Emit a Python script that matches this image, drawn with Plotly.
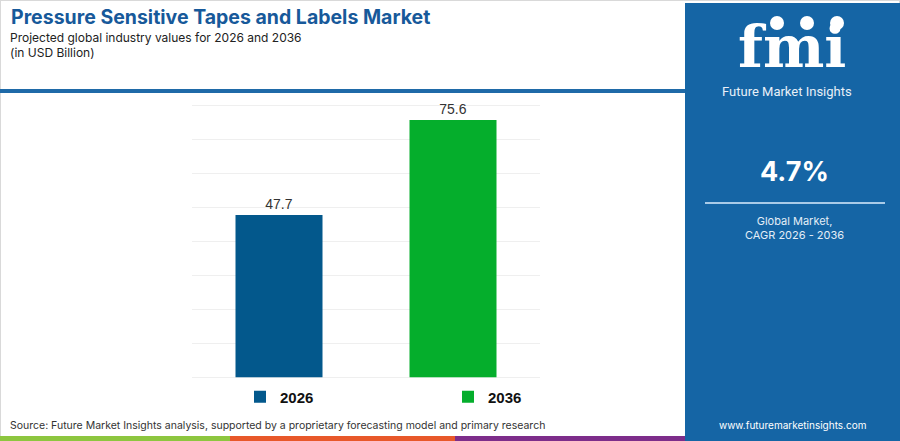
import plotly.graph_objects as go

# -----------------------------------------------------------------------------
# datos
years = ["2026", "2036"]
values = [47.7, 75.6]
bar_colors = ["#03588C", "#05AE2C"]

title = "Pressure Sensitive Tapes and Labels Market"
subtitle = "Projected global industry values for 2026 and 2036"
units = "(in USD Billion)"
cagr = "4.7%"
source = "Source: Future Market Insights analysis, supported by a proprietary forecasting model and primary research"

W, H = 900, 441


def px_x(p):
    return p / W


def px_y(p):
    return 1 - p / H


fig = go.Figure()

for year, val, col in zip(years, values, bar_colors):
    fig.add_trace(go.Bar(
        x=[year], y=[val], name=f"<b>{year}</b>",
        marker=dict(color=col, line=dict(width=0)),
        width=0.5,
        text=[f"{val:.1f}"], textposition="outside",
        textfont=dict(family="Liberation Sans, Arial", size=14, color="#333333"),
        cliponaxis=False,
    ))

fig.update_layout(
    width=W, height=H,
    margin=dict(l=0, r=0, t=0, b=0),
    paper_bgcolor="white", plot_bgcolor="white",
    barmode="overlay",
    showlegend=True,
    legend=dict(
        orientation="h", x=px_x(240), y=px_y(397), xanchor="left", yanchor="middle",
        entrywidth=163, entrywidthmode="pixels",
        font=dict(family="Liberation Sans, Arial", size=15, color="#111111"),
        bgcolor="rgba(0,0,0,0)",
    ),
    xaxis=dict(domain=[px_x(192), px_x(540)], range=[-0.5, 1.5],
               showticklabels=False, showgrid=False, zeroline=False, fixedrange=True),
    yaxis=dict(domain=[px_y(377.5), px_y(104)], range=[0, 80.3], dtick=10,
               showticklabels=False, showgrid=True, gridcolor="#efefef", gridwidth=1,
               zeroline=True, zerolinecolor="#efefef", zerolinewidth=1, fixedrange=True),
)

shapes = []
# borde gris
shapes.append(dict(type="rect", xref="paper", yref="paper", x0=0, x1=1, y0=0, y1=1,
                   line=dict(color="#d9d9d9", width=2), fillcolor="rgba(0,0,0,0)", layer="below"))
# linea azul bajo el titulo
shapes.append(dict(type="line", xref="paper", yref="paper", x0=0, x1=px_x(685),
                   y0=px_y(91), y1=px_y(91), line=dict(color="#1f6aa8", width=4)))
# franja inferior
for x0, x1, col in [(0, 230, "#8DC63F"), (230, 455, "#E8582A"), (455, 685, "#7D2D8A")]:
    shapes.append(dict(type="rect", xref="paper", yref="paper", x0=px_x(x0), x1=px_x(x1),
                       y0=0, y1=px_y(436), line=dict(width=0), fillcolor=col))
# panel derecho
shapes.append(dict(type="rect", xref="paper", yref="paper", x0=px_x(685), x1=1,
                   y0=0, y1=px_y(3), line=dict(width=0), fillcolor="#1565A5"))
# separador del CAGR
shapes.append(dict(type="line", xref="paper", yref="paper", x0=px_x(705), x1=px_x(885),
                   y0=px_y(203), y1=px_y(203), line=dict(color="#a9cbe8", width=2)))
# circulos del logo
for cx in [777, 807, 837]:
    shapes.append(dict(type="circle", xref="paper", yref="paper",
                       x0=px_x(cx - 7), x1=px_x(cx + 7), y0=px_y(30), y1=px_y(16),
                       line=dict(width=0), fillcolor="white"))
fig.update_layout(shapes=shapes)

ann = []
ann.append(dict(text=f"<b>{title}</b>", x=px_x(9), y=px_y(17), xanchor="left", yanchor="middle",
                font=dict(family="Inter, Roboto", size=19.5, color="#17599A")))
ann.append(dict(text=subtitle, x=px_x(8), y=px_y(37), xanchor="left", yanchor="middle",
                font=dict(family="Inter, Roboto", size=12, color="#222222")))
ann.append(dict(text=units, x=px_x(8), y=px_y(52), xanchor="left", yanchor="middle",
                font=dict(family="Inter, Roboto", size=12, color="#222222")))
ann.append(dict(text=source, x=px_x(8), y=px_y(425), xanchor="left", yanchor="middle",
                font=dict(family="Inter, Roboto", size=10.5, color="#333333")))
# panel
ann.append(dict(text="<b>fmi</b>", x=px_x(792), y=px_y(47), xanchor="center", yanchor="middle",
                font=dict(family="DejaVu Serif", size=58, color="white")))
ann.append(dict(text="Future Market Insights", x=px_x(787), y=px_y(92), xanchor="center", yanchor="middle",
                font=dict(family="Roboto", size=13, color="#e8f0f8")))
ann.append(dict(text=f"<b>{cagr}</b>", x=px_x(794), y=px_y(171), xanchor="center", yanchor="middle",
                font=dict(family="Inter, Roboto", size=27, color="white")))
ann.append(dict(text="Global Market,<br>CAGR 2026 - 2036", x=px_x(794), y=px_y(228), xanchor="center",
                yanchor="middle", font=dict(family="Inter, Roboto", size=11, color="#e3edf7")))
ann.append(dict(text="www.futuremarketinsights.com", x=px_x(792), y=px_y(425), xanchor="center",
                yanchor="middle", font=dict(family="Inter, Roboto", size=10, color="white")))
for a in ann:
    a.update(xref="paper", yref="paper", showarrow=False)
fig.update_layout(annotations=ann)

# quitar el margen del body para que la figura llene la ventana
fig.write_html("out.html", config={"displayModeBar": False},
               post_script="document.body.style.margin='0';")
